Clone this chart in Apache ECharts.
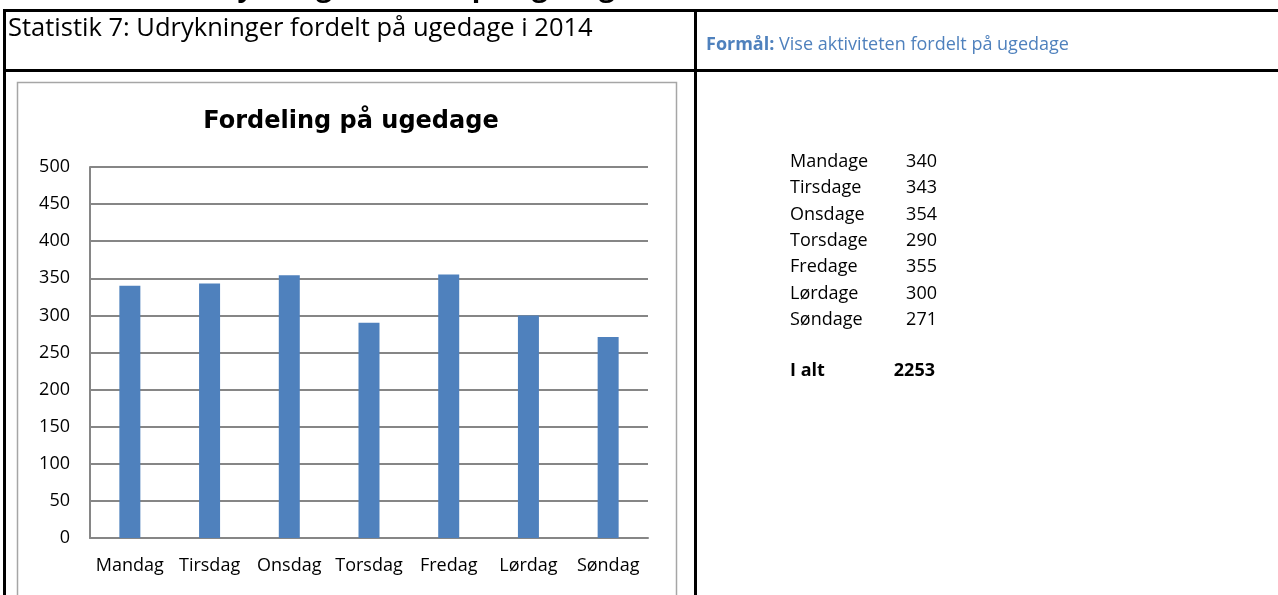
<!DOCTYPE html>
<html>
<head>
<meta charset="utf-8">
<title>Fordeling på ugedage</title>
<script src="https://cdn.jsdelivr.net/npm/echarts@6/dist/echarts.min.js"></script>
<style>
  html, body { margin: 0; padding: 0; background: #fff; }
  #chart { width: 1278px; height: 595px; }
</style>
</head>
<body>
<div id="chart"></div>
<script>
// data
var days = ['Mandag', 'Tirsdag', 'Onsdag', 'Torsdag', 'Fredag', 'Lørdag', 'Søndag']
var counts = [340, 343, 354, 290, 355, 300, 271]
var listLabels = ['Mandage', 'Tirsdage', 'Onsdage', 'Torsdage', 'Fredage', 'Lørdage', 'Søndage']
var yTicks = [0, 50, 100, 150, 200, 250, 300, 350, 400, 450, 500]
var totalLabel = 'I alt'
var total = counts.reduce(function (a, b) { return a + b }, 0)

var bodyFont = '"Open Sans", "Noto Sans", sans-serif'
var blue = '#4F81BD'

// table lines + texts around the chart
var graphics = [
  // heading that is cut off at the top of the page
  { type: 'text', style: { text: 'Udrykninger fordelt på ugedage', x: 186, y: -12, font: 'bold 28px "Open Sans", sans-serif', fill: '#000', verticalAlign: 'middle' } },
  // table borders
  { type: 'rect', shape: { x: 3, y: 9, width: 1290, height: 3 }, style: { fill: '#000' } },
  { type: 'rect', shape: { x: 3, y: 69, width: 1290, height: 3 }, style: { fill: '#000' } },
  { type: 'rect', shape: { x: 3, y: 9, width: 3, height: 600 }, style: { fill: '#000' } },
  { type: 'rect', shape: { x: 694, y: 9, width: 3, height: 600 }, style: { fill: '#000' } },
  // chart frame
  { type: 'rect', shape: { x: 17.5, y: 82.5, width: 659, height: 530 }, style: { fill: 'none', stroke: '#a6a6a6', lineWidth: 1.5 } },
  { type: 'text', style: { text: 'Statistik 7: Udrykninger fordelt på ugedage i 2014', x: 8, y: 29, font: '25.5px ' + bodyFont, fill: '#000', verticalAlign: 'middle' } },
  { type: 'text', style: {
      text: '{b|Formål:} Vise aktiviteten fordelt på ugedage', x: 706, y: 45,
      font: '18px ' + bodyFont, fill: blue, verticalAlign: 'middle',
      rich: { b: { fontWeight: 'bold', fontSize: 18, fontFamily: bodyFont, fill: blue } }
  } }
]

listLabels.forEach(function (name, i) {
  var y = 162 + i * 26.3
  graphics.push({ type: 'text', style: { text: name, x: 790, y: y, font: '18px ' + bodyFont, fill: '#000', verticalAlign: 'middle' } })
  graphics.push({ type: 'text', style: { text: String(counts[i]), x: 937, y: y, font: '18px ' + bodyFont, fill: '#000', verticalAlign: 'middle', align: 'right' } })
})
graphics.push({ type: 'text', style: { text: totalLabel, x: 790, y: 371, font: 'bold 18px ' + bodyFont, fill: '#000', verticalAlign: 'middle' } })
graphics.push({ type: 'text', style: { text: String(total), x: 935, y: 371, font: 'bold 18px ' + bodyFont, fill: '#000', verticalAlign: 'middle', align: 'right' } })

var option = {
  animation: false,
  title: {
    text: 'Fordeling på ugedage',
    left: 346,
    textAlign: 'center',
    top: 105,
    textStyle: { fontFamily: '"DejaVu Sans", sans-serif', fontWeight: 'bold', fontSize: 24, color: '#000' }
  },
  grid: { left: 90, right: 630, top: 167, bottom: 57 },
  xAxis: {
    type: 'category',
    data: days,
    axisLine: { lineStyle: { color: '#868686', width: 2 } },
    axisTick: { show: false },
    axisLabel: { color: '#000', fontSize: 18, fontFamily: bodyFont, margin: 19, interval: 0 }
  },
  yAxis: {
    type: 'value',
    min: yTicks[0],
    max: yTicks[yTicks.length - 1],
    interval: 50,
    axisLine: { show: true, lineStyle: { color: '#868686', width: 2 } },
    axisTick: { show: false },
    axisLabel: { color: '#000', fontSize: 18, fontFamily: bodyFont, margin: 20 },
    splitLine: { lineStyle: { color: '#868686', width: 2 } }
  },
  series: [
    {
      type: 'bar',
      data: counts,
      barWidth: 21,
      itemStyle: { color: blue }
    }
  ],
  graphic: graphics
}

var myChart = echarts.init(document.getElementById('chart'))
myChart.setOption(option)
</script>
</body>
</html>
